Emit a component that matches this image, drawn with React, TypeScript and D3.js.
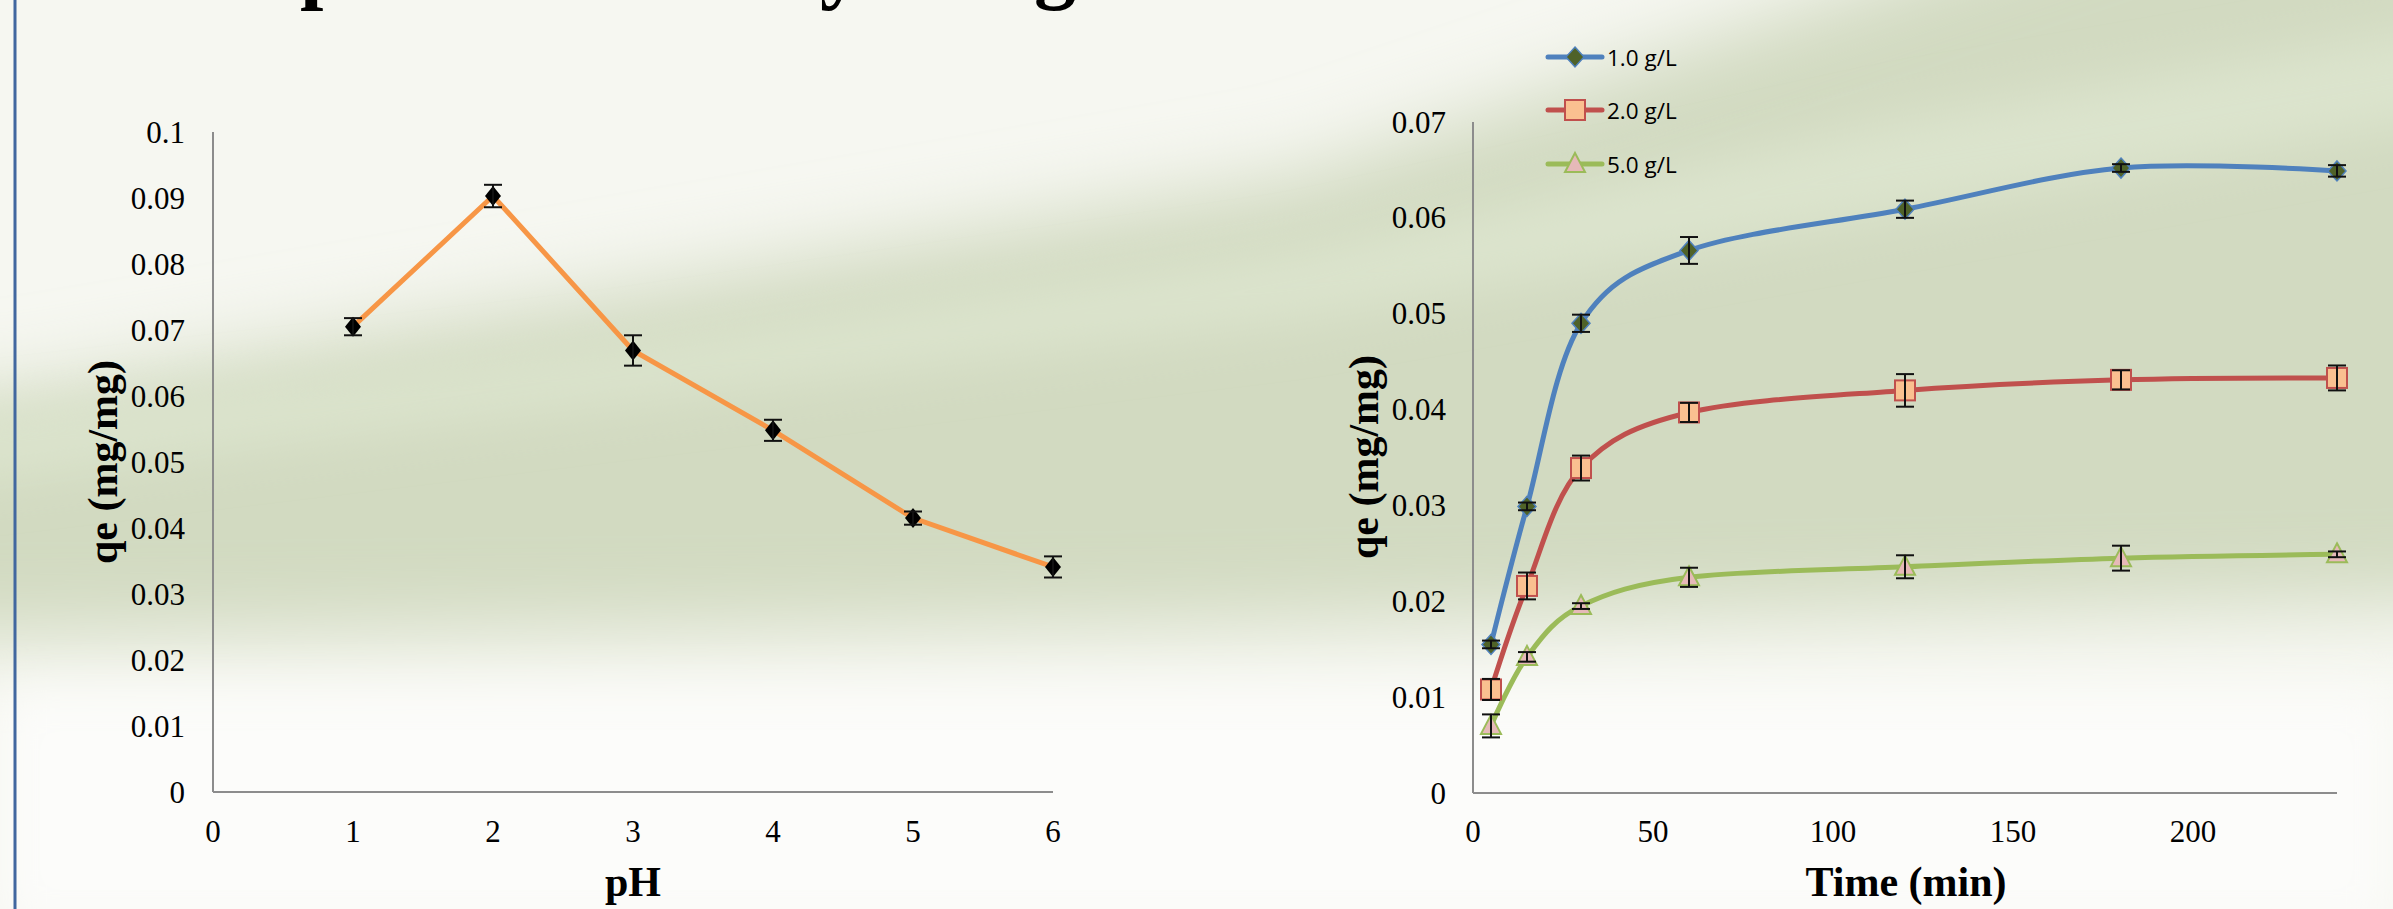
import React from "react";
import * as d3 from "d3";

// pH study
const phValues = [1, 2, 3, 4, 5, 6];
const phQe = [0.0705, 0.0903, 0.0669, 0.0548, 0.0415, 0.0341];
const phErr = [0.0013, 0.0017, 0.0023, 0.0016, 0.001, 0.0016];
const phXTicks = [0, 1, 2, 3, 4, 5, 6];
const phYTicks = [0, 0.01, 0.02, 0.03, 0.04, 0.05, 0.06, 0.07, 0.08, 0.09, 0.1];

// contact time study
const timeValues = [5, 15, 30, 60, 120, 180, 240];
const seriesNames = ["1.0 g/L", "2.0 g/L", "5.0 g/L"];
const qe1 = [0.0155, 0.0299, 0.049, 0.0566, 0.0609, 0.0652, 0.0649];
const err1 = [0.0004, 0.0004, 0.0009, 0.0014, 0.0009, 0.0004, 0.0006];
const qe2 = [0.0108, 0.0216, 0.0339, 0.0397, 0.042, 0.0431, 0.0433];
const err2 = [0.0011, 0.0014, 0.0013, 0.001, 0.0017, 0.001, 0.0013];
const qe3 = [0.007, 0.0142, 0.0195, 0.0225, 0.0236, 0.0245, 0.0249];
const err3 = [0.0012, 0.0005, 0.0003, 0.001, 0.0012, 0.0013, 0.0003];
const timeXTicks = [0, 50, 100, 150, 200];
const timeYTicks = [0, 0.01, 0.02, 0.03, 0.04, 0.05, 0.06, 0.07];

const W = 2393;
const H = 909;
const serif = '"Liberation Serif", "Times New Roman", serif';
const fmt = (v: number) => String(+v.toFixed(2));

const styles = [
  { line: "#4F81BD", fill: "#4F6228", stroke: "#4F81BD", shape: "diamond" },
  { line: "#C0504D", fill: "#FAC090", stroke: "#C0504D", shape: "square" },
  { line: "#9BBB59", fill: "#E6B9B8", stroke: "#9BBB59", shape: "triangle" },
];

function Marker({ x, y, shape, fill, stroke }: any) {
  if (shape === "diamond")
    return <path d={`M${x},${y - 10}L${x + 9},${y}L${x},${y + 10}L${x - 9},${y}Z`} fill={fill} stroke={stroke} strokeWidth={1.5} />;
  if (shape === "square")
    return <rect x={x - 10} y={y - 10} width={20} height={20} fill={fill} stroke={stroke} strokeWidth={2} />;
  return <path d={`M${x},${y - 11}L${x + 10},${y + 8}L${x - 10},${y + 8}Z`} fill={fill} stroke={stroke} strokeWidth={2} />;
}

function ErrBar({ x, y0, y1 }: any) {
  return (
    <g stroke="#111" strokeWidth={2}>
      <line x1={x} x2={x} y1={y0} y2={y1} />
      <line x1={x - 9} x2={x + 9} y1={y0} y2={y0} />
      <line x1={x - 9} x2={x + 9} y1={y1} y2={y1} />
    </g>
  );
}

export default function App() {
  // left panel scales
  const xL = d3.scaleLinear().domain([0, 6]).range([213, 1053]);
  const yL = d3.scaleLinear().domain([0, 0.1]).range([792, 132]);
  // right panel scales
  const xR = d3.scaleLinear().domain([0, 240]).range([1473, 2337]);
  const yR = d3.scaleLinear().domain([0, 0.07]).range([793, 122]);

  const phLine = d3
    .line<number>()
    .x((_, i) => xL(phValues[i]))
    .y((d) => yL(d))(phQe);

  const smooth = d3
    .line<number>()
    .x((_, i) => xR(timeValues[i]))
    .y((d) => yR(d))
    .curve(d3.curveCardinal.tension(0));

  const qeSets = [qe1, qe2, qe3];
  const errSets = [err1, err2, err3];

  return (
    <svg width={W} height={H} style={{ position: "absolute", left: 0, top: 0 }} fontFamily={serif}>
      <defs>
        <filter id="blur" x="-20%" y="-20%" width="140%" height="140%">
          <feGaussianBlur stdDeviation="40" />
        </filter>
        <filter id="blur2" x="-20%" y="-20%" width="140%" height="140%">
          <feGaussianBlur stdDeviation="25" />
        </filter>
      </defs>

      {/* blurred photo backdrop */}
      <rect width={W} height={H} fill="#F6F7F1" />
      <polygon
        points="-200,400 0,395 1300,175 2600,-260 2600,600 1200,625 -200,640"
        fill="#D2DAC1"
        filter="url(#blur)"
      />
      <polygon points="-200,440 600,350 1300,250 1900,120 2600,0 2600,90 1300,320 -200,500" fill="#DCE4CD" filter="url(#blur2)" />
      <rect x={0} y={690} width={W} height={240} fill="#FCFCFA" filter="url(#blur2)" />
      <line x1={15} x2={15} y1={0} y2={H} stroke="#41679F" strokeWidth={3} />

      {/* title cut off at top */}
      <g fontWeight="bold" fontSize={84} fill="#000">
        <text x={300} y={-7}>p</text>
        <text x={820} y={-7}>y</text>
        <text x={1034} y={-7}>g</text>
      </g>

      {/* ---------- left chart ---------- */}
      <line x1={xL(0)} x2={xL(0)} y1={yL(0.1)} y2={yL(0)} stroke="#8C8C8C" strokeWidth={2} />
      <line x1={xL(0)} x2={xL(6)} y1={yL(0)} y2={yL(0)} stroke="#8C8C8C" strokeWidth={2} />
      <g fontSize={31} fill="#000">
        {phYTicks.map((t) => (
          <text key={t} x={185} y={yL(t)} textAnchor="end" dominantBaseline="central">
            {fmt(t)}
          </text>
        ))}
        {phXTicks.map((t) => (
          <text key={t} x={xL(t)} y={831} textAnchor="middle" dominantBaseline="central">
            {t}
          </text>
        ))}
      </g>
      <path d={phLine || ""} fill="none" stroke="#F79646" strokeWidth={5} />
      {phValues.map((v, i) => (
        <g key={v}>
          <path
            d={`M${xL(v)},${yL(phQe[i]) - 10}L${xL(v) + 8},${yL(phQe[i])}L${xL(v)},${yL(phQe[i]) + 10}L${xL(v) - 8},${yL(phQe[i])}Z`}
            fill="#000"
          />
          <ErrBar x={xL(v)} y0={yL(phQe[i] + phErr[i])} y1={yL(phQe[i] - phErr[i])} />
        </g>
      ))}
      <text x={633} y={882} textAnchor="middle" dominantBaseline="central" fontSize={42} fontWeight="bold">
        pH
      </text>
      <text
        transform="translate(103,462) rotate(-90)"
        textAnchor="middle"
        dominantBaseline="central"
        fontSize={42}
        fontWeight="bold"
      >
        qe (mg/mg)
      </text>

      {/* ---------- right chart ---------- */}
      <line x1={xR(0)} x2={xR(0)} y1={yR(0.07)} y2={yR(0)} stroke="#8C8C8C" strokeWidth={2} />
      <line x1={xR(0)} x2={xR(240)} y1={yR(0)} y2={yR(0)} stroke="#8C8C8C" strokeWidth={2} />
      <g fontSize={31} fill="#000">
        {timeYTicks.map((t) => (
          <text key={t} x={1446} y={yR(t)} textAnchor="end" dominantBaseline="central">
            {fmt(t)}
          </text>
        ))}
        {timeXTicks.map((t) => (
          <text key={t} x={xR(t)} y={831} textAnchor="middle" dominantBaseline="central">
            {t}
          </text>
        ))}
      </g>
      {qeSets.map((vals, s) => (
        <path key={s} d={smooth(vals) || ""} fill="none" stroke={styles[s].line} strokeWidth={5} />
      ))}
      {qeSets.map((vals, s) =>
        vals.map((v, i) => (
          <g key={`${s}-${i}`}>
            <Marker x={xR(timeValues[i])} y={yR(v)} {...styles[s]} />
            <ErrBar x={xR(timeValues[i])} y0={yR(v + errSets[s][i])} y1={yR(v - errSets[s][i])} />
          </g>
        ))
      )}
      <text x={1906} y={882} textAnchor="middle" dominantBaseline="central" fontSize={42} fontWeight="bold">
        Time (min)
      </text>
      <text
        transform="translate(1364,457) rotate(-90)"
        textAnchor="middle"
        dominantBaseline="central"
        fontSize={42}
        fontWeight="bold"
      >
        qe (mg/mg)
      </text>

      {/* legend */}
      {seriesNames.map((name, s) => {
        const ly = [57, 110, 164][s];
        return (
          <g key={name}>
            <line x1={1548} x2={1602} y1={ly} y2={ly} stroke={styles[s].line} strokeWidth={5} strokeLinecap="round" />
            <Marker x={1575} y={ly} {...styles[s]} />
            <text
              x={1607}
              y={ly}
              dominantBaseline="central"
              fontFamily='"Open Sans", "Noto Sans", sans-serif'
              fontSize={22.5}
              fill="#000"
            >
              {name}
            </text>
          </g>
        );
      })}
    </svg>
  );
}
